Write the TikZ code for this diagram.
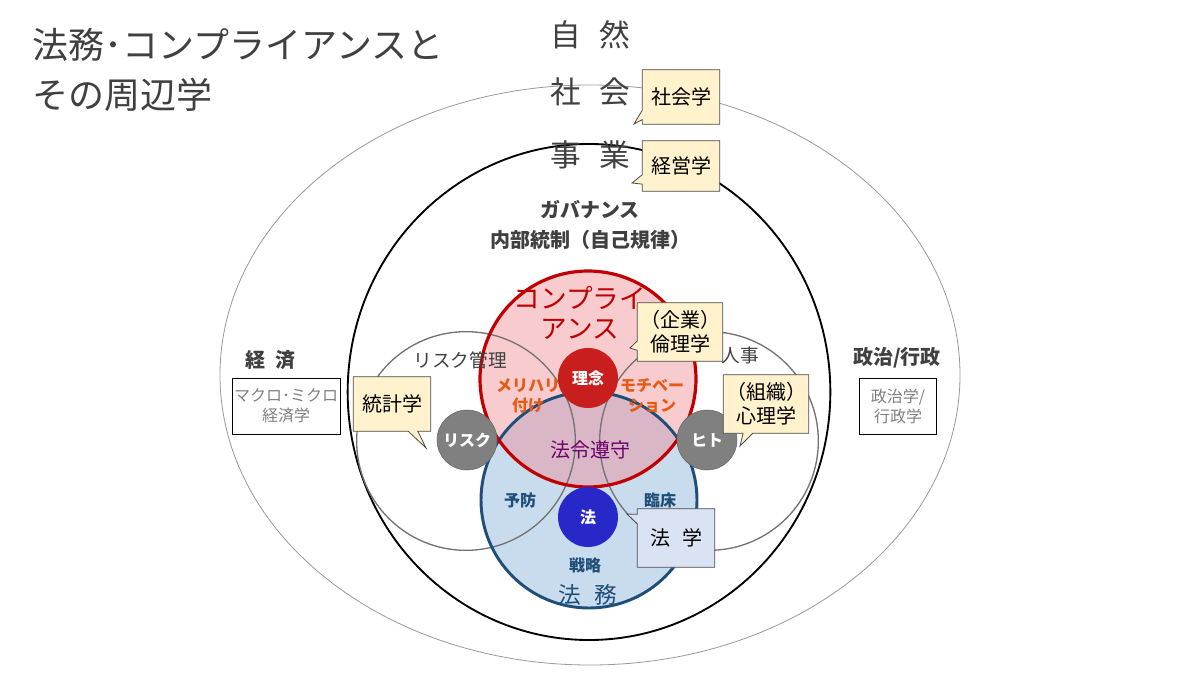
\documentclass[tikz,border=0pt]{standalone}
\usepackage{fontspec}
\setmainfont{Noto Sans CJK JP}
\usetikzlibrary{shapes.callouts,shapes.geometric}
\definecolor{cred}{RGB}{192,0,0}
\definecolor{cblue}{RGB}{31,78,121}
\definecolor{cyel}{RGB}{255,242,204}
\definecolor{clb}{RGB}{218,227,243}
\definecolor{cfillb}{RGB}{200,220,238}
\definecolor{cgray}{RGB}{128,128,128}
\definecolor{ctxt}{RGB}{64,64,64}
\tikzset{
 call/.style={rectangle callout,draw=black!70,fill=cyel,line width=0.6pt,minimum width=58pt,minimum height=41pt,align=center,font=\fontsize{15}{18}\selectfont,inner sep=2pt},
 wbox/.style={draw=black,fill=white,line width=0.6pt,minimum width=81pt,minimum height=42pt,align=center,font=\fontsize{12}{15}\selectfont,text=cgray,inner sep=1pt},
 dot/.style={circle,minimum size=45pt,inner sep=0pt,text=white,font=\bfseries\fontsize{12}{14}\selectfont},
 big/.style={font=\fontsize{23}{26}\selectfont,text=ctxt},
}
\begin{document}
\begin{tikzpicture}[x=0.75pt,y=-0.75pt]
\useasboundingbox (0,0) rectangle (1200,675);
\fill[white] (0,0) rectangle (1200,675);
% outer ellipses
\node[ellipse,draw=black!40,line width=0.6pt,minimum width=555pt,minimum height=435pt,inner sep=0pt] (soc) at (590,375) {};
\node[ellipse,draw=black,line width=1.4pt,minimum width=362pt,minimum height=372pt,inner sep=0pt] (biz) at (589,392) {};
% main circles
\node[circle,fill=cfillb,minimum size=162pt,inner sep=0pt] (law) at (589,500) {};
\node[circle,fill={rgb,255:red,240;green,140;blue,150},fill opacity=0.45,minimum size=162pt,inner sep=0pt] (comp) at (588,379) {};
% gray circles
\node[circle,draw=black!55,line width=1pt,minimum size=164pt,inner sep=0pt] (risk) at (466,441) {};
\node[circle,draw=black!55,line width=1pt,minimum size=164pt,inner sep=0pt] (hr) at (709,441) {};
\node[circle,draw=cblue,line width=2.2pt,minimum size=162pt,inner sep=0pt] (lawb) at (589,500) {};
\node[circle,draw=cred,line width=2.4pt,minimum size=162pt,inner sep=0pt] (compb) at (588,379) {};
% dots
\node[dot,fill={rgb,255:red,200;green,30;blue,30}] (rinen) at (588,378) {理念};
\node[dot,fill={rgb,255:red,40;green,40;blue,200}] (ho) at (588,517) {法};
\node[dot,fill=cgray,draw=black!60] (rdot) at (467,440) {リスク};
\node[dot,fill=cgray,draw=black!60] (hito) at (707,440) {ヒト};
% title
\node[anchor=west,font=\fontsize{27}{30}\selectfont,text=ctxt] (t1) at (28,45) {法務･コンプライアンスと};
\node[anchor=west,font=\fontsize{27}{30}\selectfont,text=ctxt] (t2) at (28,95) {その周辺学};
\node[big] (shizen) at (590,35) {自\hspace{0.6em}然};
\node[big] (shakai) at (590,92) {社\hspace{0.6em}会};
\node[big] (jigyo) at (590,155) {事\hspace{0.6em}業};
\node[font=\bfseries\fontsize{15}{18}\selectfont,text=ctxt] (gov) at (590,210) {ガバナンス};
\node[font=\bfseries\fontsize{15}{18}\selectfont,text=ctxt] (naibu) at (590,240) {内部統制（自己規律）};
\node[font=\bfseries\fontsize{15}{18}\selectfont,text=ctxt] (keizai) at (270,360) {経\hspace{0.5em}済};
\node[font=\bfseries\fontsize{15}{18}\selectfont,text=ctxt] (seiji) at (897,358) {政治/行政};
\node[wbox] (macro) at (286,406) {マクロ･ミクロ\\経済学};
\node[wbox,minimum width=58pt] (gyosei) at (898,406) {政治学/\\行政学};
\node[font=\fontsize{20}{23}\selectfont,text=cred,align=center] (ctext) at (580,313) {コンプライ\\アンス};
\node[font=\bfseries\fontsize{12}{15}\selectfont,text={rgb,255:red,230;green,90;blue,20},align=center] (meri) at (528,396) {メリハリ\\付け};
\node[font=\bfseries\fontsize{12}{15}\selectfont,text={rgb,255:red,230;green,90;blue,20},align=center] (moti) at (652,396) {モチベー\\ション};
\node[font=\fontsize{15}{18}\selectfont,text={rgb,255:red,112;green,0;blue,112}] (horei) at (590,450) {法令遵守};
\node[font=\fontsize{14}{17}\selectfont,text=ctxt] (rkanri) at (460,360) {リスク管理};
\node[font=\fontsize{14}{17}\selectfont,text=ctxt] (jinji) at (740,355) {人事};
\node[font=\bfseries\fontsize{12}{15}\selectfont,text=cblue] (yobo) at (520,500) {予防};
\node[font=\bfseries\fontsize{12}{15}\selectfont,text=cblue] (rinsho) at (660,500) {臨床};
\node[font=\bfseries\fontsize{12}{15}\selectfont,text=cblue] (senryaku) at (585,565) {戦略};
\node[font=\fontsize{17}{20}\selectfont,text=cblue] (homu) at (588,595) {法\hspace{0.6em}務};
% callouts
\node[call,callout absolute pointer={(634,124)}] (c1) at (681,97) {社会学};
\node[call,minimum height=38pt,callout absolute pointer={(632,183)}] (c2) at (681,166) {経営学};
\node[call,minimum height=44pt,callout absolute pointer={(630,348)}] (c3) at (680,332) {（企業）\\倫理学};
\node[call,minimum height=44pt,callout absolute pointer={(740,446)}] (c4) at (766,404) {（組織）\\心理学};
\node[call,callout absolute pointer={(426,448)}] (c5) at (392,404) {統計学};
\node[call,fill=clb,minimum height=44pt,callout absolute pointer={(627,514)}] (c6) at (676,538) {法\hspace{0.6em}学};
\end{tikzpicture}
\end{document}
